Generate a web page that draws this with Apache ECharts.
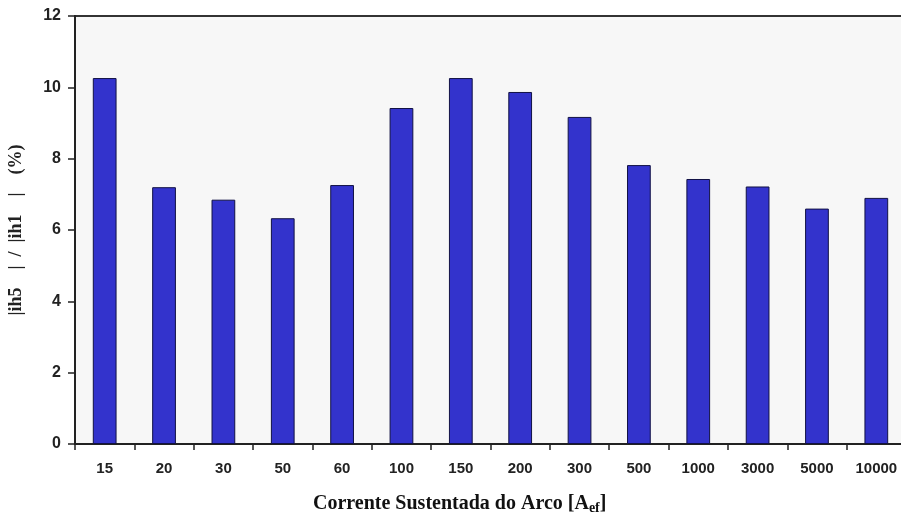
<!DOCTYPE html>
<html>
<head>
<meta charset="utf-8">
<script src="https://cdn.jsdelivr.net/npm/echarts@6/dist/echarts.min.js"></script>
<style>
  html, body { margin: 0; padding: 0; background: #fff; }
  #chart { width: 901px; height: 516px; }
</style>
</head>
<body>
<div id="chart"></div>
<script>
const categories = ["15", "20", "30", "50", "60", "100", "150", "200", "300", "500", "1000", "3000", "5000", "10000"]
const ratioValues = [10.26, 7.2, 6.85, 6.33, 7.26, 9.42, 10.26, 9.87, 9.17, 7.82, 7.43, 7.22, 6.6, 6.9]
const yTicks = [0, 2, 4, 6, 8, 10, 12]

const chart = echarts.init(document.getElementById("chart"))

const option = {
  animation: false,
  grid: {
    left: 75,
    width: 831,
    top: 16,
    bottom: 72,
    outerBoundsMode: "none",
    show: true,
    backgroundColor: "#f7f7f7",
    borderColor: "#333",
    borderWidth: 2,
  },
  title: {
    left: 308,
    top: 487,
    text: "{a|Corrente Sustentada do Arco [A}{s|ef}{a|]}",
    textStyle: {
      rich: {
        a: { fontFamily: "Liberation Serif", fontWeight: "bold", fontSize: 20, color: "#111" },
        s: { fontFamily: "Liberation Serif", fontWeight: "bold", fontSize: 14, color: "#111", padding: [9, 0, 0, 0] },
      },
    },
  },
  xAxis: {
    type: "category",
    data: categories,
    axisLine: { lineStyle: { color: "#222", width: 2 } },
    axisTick: { show: true, length: 6, lineStyle: { color: "#222", width: 1.5 } },
    axisLabel: {
      margin: 17,
      fontFamily: "Liberation Sans",
      fontWeight: "bold",
      fontSize: 15,
      color: "#222",
    },
  },
  yAxis: {
    type: "value",
    min: yTicks[0],
    max: yTicks[yTicks.length - 1],
    interval: 2,
    name: "|ih5    |  /  |ih1    |    (%)",
    nameLocation: "middle",
    nameRotate: 90,
    nameGap: 50,
    nameTextStyle: {
      fontFamily: "Liberation Serif",
      fontWeight: "bold",
      fontSize: 18,
      color: "#222",
    },
    axisLine: { show: true, lineStyle: { color: "#222", width: 2 } },
    axisTick: { show: true, length: 7, inside: false, lineStyle: { color: "#222", width: 1.5 } },
    splitLine: { show: false },
    axisLabel: {
      margin: 14,
      fontFamily: "Liberation Sans",
      fontWeight: "bold",
      fontSize: 16,
      color: "#222",
    },
  },
  series: [
    {
      type: "bar",
      data: ratioValues,
      barWidth: "40%",
      itemStyle: {
        color: "#3333cc",
        borderColor: "#111144",
        borderWidth: 1,
      },
    },
  ],
}

chart.setOption(option)
</script>
</body>
</html>
